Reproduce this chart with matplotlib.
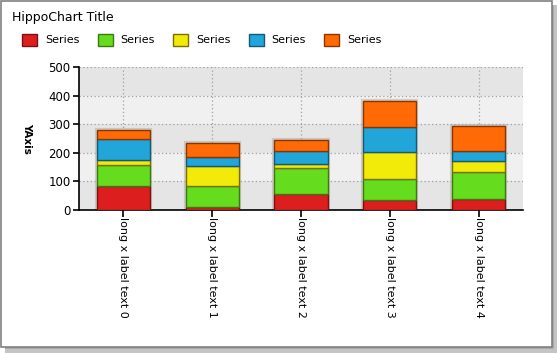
import matplotlib
matplotlib.use("Agg")
import matplotlib.pyplot as plt
from matplotlib.patches import Rectangle
import numpy as np

categories = ["long x label text 0", "long x label text 1", "long x label text 2",
              "long x label text 3", "long x label text 4"]
series_names = ["Series", "Series", "Series", "Series", "Series"]
red = [85, 12, 56, 34, 37]
green = [71, 72, 92, 75, 96]
yellow = [19, 70, 13, 94, 38]
blue = [72, 32, 45, 87, 35]
orange = [32, 49, 39, 91, 88]
yticks = [0, 100, 200, 300, 400, 500]

series = [red, green, yellow, blue, orange]
faces = ["#DC1E1E", "#66DC1E", "#F2EA08", "#22A5D8", "#FF6A06"]
edges = ["#7a1010", "#3a7a10", "#7a7000", "#115a78", "#8a3500"]

W, H = 557, 353
fig = plt.figure(figsize=(W / 100, H / 100), dpi=100)
fig.patch.set_facecolor("white")

def frect(x0, y0, w, h, zorder=-1, **kw):
    # pixel coordinates, origin top-left
    fig.add_artist(Rectangle((x0 / W, 1 - (y0 + h) / H), w / W, h / H,
                             transform=fig.transFigure, zorder=zorder, **kw))

# window shadow and frame
frect(552, 5, 5, 348, facecolor="#c4c4c4", edgecolor="none")
frect(5, 347, 552, 6, facecolor="#c4c4c4", edgecolor="none")
frect(552, 5, 2, 343, facecolor="#a8a8a8", edgecolor="none")
frect(5, 347, 548, 2, facecolor="#a8a8a8", edgecolor="none")
frect(0.5, 0.5, 551, 346, fill=False, edgecolor="#808080", lw=1.2)

left, right, top, bottom = 79, 523, 67, 210
ax = fig.add_axes([left / W, (H - bottom) / H, (right - left) / W, (bottom - top) / H])
ax.set_xlim(-0.5, len(categories) - 0.5)
ax.set_ylim(0, 500)
ax.set_facecolor("#f0f0f0")
for i in range(5):
    if i % 2 == 0:
        ax.axhspan(yticks[i], yticks[i + 1], facecolor="#e5e5e5", edgecolor="none", zorder=0)

x = np.arange(len(categories))
for v in yticks[1:]:
    ax.axhline(v, color="#a0a0a0", lw=0.9, ls=(0, (1, 2)), zorder=1)
for xi in x:
    ax.axvline(xi, color="#a0a0a0", lw=0.9, ls=(0, (1, 2)), zorder=1)

bottoms = np.zeros(len(categories))
tot = np.sum(series, axis=0)
ax.bar(x, tot, 0.6, bottom=0, facecolor="none", edgecolor="#b0a8a0", lw=3, alpha=0.5, zorder=2)
for vals, fc, ec in zip(series, faces, edges):
    ax.bar(x, vals, 0.6, bottom=bottoms, facecolor=fc, edgecolor=ec, lw=1.0, zorder=3)
    bottoms += np.array(vals)

for s in ["top", "right"]:
    ax.spines[s].set_visible(False)
ax.spines["left"].set_color("black")
ax.spines["bottom"].set_color("black")
ax.spines["left"].set_linewidth(1.2)
ax.spines["bottom"].set_linewidth(1.2)
ax.set_yticks(yticks)
ax.set_yticklabels([str(v) for v in yticks], fontsize=8.5)
ax.tick_params(axis="y", length=4, width=1.2, pad=2, colors="black")
ax.set_xticks(x)
ax.set_xticklabels(categories, rotation=270, fontsize=8, va="top", ha="center")
ax.tick_params(axis="x", length=5, width=1.2, pad=0, colors="black")

fig.text(27 / W, 1 - 138 / H, "YAxis", fontsize=7.5, fontweight="bold",
         rotation=270, va="center", ha="center")
fig.text(12 / W, 1 - 18 / H, "HippoChart Title", fontsize=9, va="center", ha="left")
for i, (name, fc, ec) in enumerate(zip(series_names, faces, edges)):
    x0 = 22 + i * 75.5
    frect(x0, 34, 15, 12, zorder=2, facecolor=fc, edgecolor=ec, lw=1)
    fig.text((x0 + 23) / W, 1 - 40 / H, name, fontsize=8, va="center", ha="left")

fig.savefig("out.png", dpi=100)
